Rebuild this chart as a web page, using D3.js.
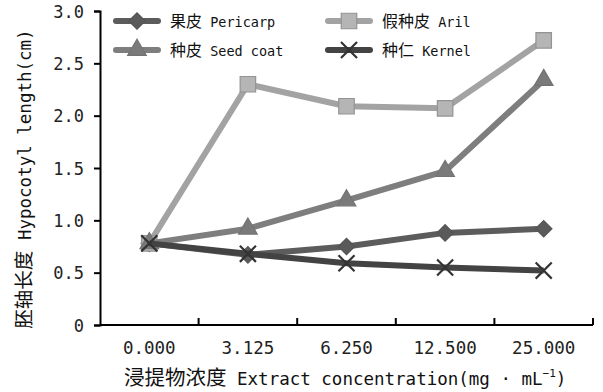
<!DOCTYPE html>
<html>
<head>
<meta charset="utf-8">
<script src="https://cdn.jsdelivr.net/npm/d3@7"></script>
<style>
  html, body { margin: 0; padding: 0; background: #fff; }
  svg { display: block; }
  .lat { font-family: "DejaVu Sans Mono", "Liberation Mono", monospace; }
  .cjk { font-family: "Noto Sans CJK SC", "Noto Sans CJK JP", sans-serif; }
</style>
</head>
<body>
<svg id="chart" width="603" height="392"></svg>
<script>
// Extract concentration levels (mg·mL-1)
const categories = ["0.000", "3.125", "6.250", "12.500", "25.000"];

// Hypocotyl length (cm) for each extract source
const pericarp = [0.78, 0.67, 0.75, 0.88, 0.92];
const aril     = [0.78, 2.30, 2.09, 2.07, 2.72];
const seedCoat = [0.78, 0.92, 1.19, 1.47, 2.34];
const kernel   = [0.78, 0.68, 0.59, 0.55, 0.52];

const seriesNames = ["果皮 Pericarp", "假种皮 Aril", "种皮 Seed coat", "种仁 Kernel"];
const yTicks = [0, 0.5, 1.0, 1.5, 2.0, 2.5, 3.0];

const series = [
  { name: seriesNames[0], values: pericarp, line: "#5c5c5c", marker: "diamond",  fill: "#5a5a5a", stroke: "#555" },
  { name: seriesNames[1], values: aril,     line: "#a3a3a3", marker: "square",   fill: "#b5b5b5", stroke: "#939393" },
  { name: seriesNames[2], values: seedCoat, line: "#7e7e7e", marker: "triangle", fill: "#7a7a7a", stroke: "#737373" },
  { name: seriesNames[3], values: kernel,   line: "#434343", marker: "cross",    fill: "none",    stroke: "#333" }
];

const svg = d3.select("#chart");

const x = d3.scaleBand().domain(categories).range([100, 593]);
const y = d3.scaleLinear().domain([0, 3]).range([325, 11]);

// Write a label as alternating CJK / Latin runs so each run gets its own font and size
function mixed(textSel, str, cjkSize, latSize) {
  const parts = str.match(/[\u3000-\u9fff\uff00-\uffef]+|[^\u3000-\u9fff\uff00-\uffef]+/g) || [];
  parts.forEach(p => {
    const isCjk = /[\u3000-\u9fff\uff00-\uffef]/.test(p);
    textSel.append("tspan")
      .attr("class", isCjk ? "cjk" : "lat")
      .attr("font-size", isCjk ? cjkSize : latSize)
      .attr("xml:space", "preserve")
      .text(p);
  });
  return textSel;
}

// Y axis
const yAxis = svg.append("g")
  .attr("transform", "translate(100,0)")
  .call(d3.axisLeft(y).tickValues(yTicks).tickSize(6).tickPadding(10)
    .tickFormat(d => d === 0 ? "0" : d.toFixed(1)));
yAxis.select(".domain").attr("stroke", "#000").attr("stroke-width", 2);
yAxis.selectAll(".tick line").attr("stroke", "#000").attr("stroke-width", 2);
yAxis.selectAll(".tick text")
  .attr("class", "lat").attr("font-size", 17).attr("fill", "#222").attr("dy", "0.36em");

// X axis: labels at category centres, tick marks at category boundaries
const xAxis = svg.append("g")
  .attr("transform", "translate(0,325)")
  .call(d3.axisBottom(x).tickSize(0).tickPadding(16));
xAxis.select(".domain").attr("stroke", "#000").attr("stroke-width", 2)
  .attr("d", `M${x.range()[0]},0H${x.range()[1]}`);
xAxis.selectAll(".tick text")
  .attr("class", "lat").attr("font-size", 17.5).attr("fill", "#222").attr("dy", "0.75em");
const bounds = categories.slice(1).map(c => x(c)).concat([x.range()[1]]);
xAxis.selectAll("line.bound").data(bounds).join("line")
  .attr("class", "bound")
  .attr("x1", d => d).attr("x2", d => d)
  .attr("y1", 0).attr("y2", -7)
  .attr("stroke", "#000").attr("stroke-width", 2);

// Axis titles
const xTitle = svg.append("text").attr("x", 124).attr("y", 385).attr("fill", "#111");
mixed(xTitle, "浸提物浓度 Extract concentration(mg · mL", 20.5, 17.5);
xTitle.append("tspan").attr("class", "lat").attr("font-size", 11).attr("dy", -8).text("−1");
xTitle.append("tspan").attr("class", "lat").attr("font-size", 17.5).attr("dy", 8).text(")");

const yTitle = svg.append("text")
  .attr("transform", "translate(31,179) rotate(-90)")
  .attr("text-anchor", "middle").attr("fill", "#111");
mixed(yTitle, "胚轴长度 Hypocotyl length(cm)", 19.5, 17.5);

// Marker shapes
const symbolFor = {
  diamond: d3.symbol().type(d3.symbolSquare).size(135),
  square: d3.symbol().type(d3.symbolSquare).size(240),
  triangle: d3.symbol().type(d3.symbolTriangle).size(150),
  cross: d3.symbol().type(d3.symbolX).size(170)
};

function drawMarker(g, s, cx, cy) {
  const rot = s.marker === "diamond" ? " rotate(45)" : "";
  const path = g.append("path")
    .attr("transform", `translate(${cx},${cy})${rot}`)
    .attr("d", symbolFor[s.marker]());
  if (s.marker === "cross") {
    path.attr("fill", "none").attr("stroke", s.stroke).attr("stroke-width", 2.2);
  } else {
    path.attr("fill", s.fill).attr("stroke", s.stroke).attr("stroke-width", 1.2);
  }
}

// Lines and markers
const line = d3.line()
  .x((d, i) => x(categories[i]) + x.bandwidth() / 2)
  .y(d => y(d));

series.forEach(s => {
  const g = svg.append("g");
  g.append("path")
    .datum(s.values)
    .attr("d", line)
    .attr("fill", "none")
    .attr("stroke", s.line)
    .attr("stroke-width", 6)
    .attr("stroke-linejoin", "round");
  s.values.forEach((v, i) => drawMarker(g, s, x(categories[i]) + x.bandwidth() / 2, y(v)));
});

// Legend (two columns)
const legendPos = [
  { lx: 116, ty: 21 }, { lx: 328, ty: 21 },
  { lx: 116, ty: 50 }, { lx: 328, ty: 50 }
];
series.forEach((s, i) => {
  const p = legendPos[i];
  const g = svg.append("g");
  g.append("line")
    .attr("x1", p.lx).attr("x2", p.lx + 42)
    .attr("y1", p.ty).attr("y2", p.ty)
    .attr("stroke", s.line).attr("stroke-width", 6).attr("stroke-linecap", "round");
  drawMarker(g, s, p.lx + 21, p.ty);
  const t = g.append("text").attr("x", p.lx + 54).attr("y", p.ty + 6).attr("fill", "#111");
  mixed(t, s.name, 16, 13.5);
});
</script>
</body>
</html>
